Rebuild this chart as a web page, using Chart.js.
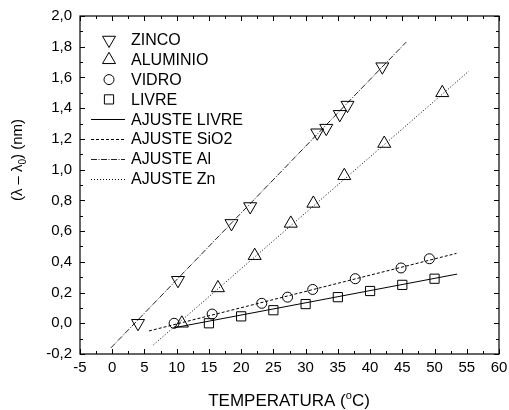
<!DOCTYPE html>
<html>
<head>
<meta charset="utf-8">
<script src="https://cdn.jsdelivr.net/npm/chart.js@4"></script>
<style>
  html, body { margin: 0; padding: 0; background: #fff; }
  canvas { display: block; }
</style>
</head>
<body>
<canvas id="chart" width="509" height="410"></canvas>
<script>
// Measured points (temperature in oC, shift in nm)
const zincoX = [4, 10.2, 18.5, 21.4, 31.8, 33.2, 35.3, 36.5, 41.9];
const zincoY = [0, 0.28, 0.65, 0.76, 1.24, 1.27, 1.36, 1.42, 1.67];
const aluminioX = [10.8, 16.4, 22.1, 27.7, 31.2, 36.0, 42.2, 51.2];
const aluminioY = [0.0, 0.23, 0.44, 0.65, 0.78, 0.96, 1.17, 1.50];
const vidroX = [9.6, 15.5, 23.2, 27.2, 31.1, 37.7, 44.8, 49.2];
const vidroY = [0.0, 0.06, 0.13, 0.17, 0.22, 0.29, 0.36, 0.42];
const livreX = [15, 20, 25, 30, 35, 40, 45, 50];
const livreY = [0, 0.045, 0.085, 0.125, 0.17, 0.21, 0.25, 0.29];

// Fit lines (end points)
const fitLivreX = [9.5, 53.5];
const fitLivreY = [-0.03, 0.32];
const fitSiO2X = [5.7, 53.4];
const fitSiO2Y = [-0.05, 0.455];
const fitAlX = [-0.2, 45.6];
const fitAlY = [-0.16, 1.83];
const fitZnX = [6.4, 55.3];
const fitZnY = [-0.14, 1.64];

const xMin = -5, xMax = 60, xStep = 5;
const yMin = -0.2, yMax = 2.0, yStep = 0.2;

const FONT = "'Liberation Sans', Arial, sans-serif";

function pts(xs, ys) {
    return xs.map((x, i) => ({ x: x, y: ys[i] }));
}

function markerSet(label, xs, ys, style, radius, rotation) {
    return {
        label: label,
        data: pts(xs, ys),
        showLine: false,
        pointStyle: style,
        pointRadius: radius,
        pointHoverRadius: radius,
        pointRotation: rotation || 0,
        pointBorderWidth: 1,
        borderColor: '#000',
        backgroundColor: 'rgba(0,0,0,0)',
        pointBackgroundColor: 'rgba(0,0,0,0)',
        order: 1
    };
}

function fitSet(label, xs, ys, dash, color) {
    return {
        label: label,
        data: pts(xs, ys),
        showLine: true,
        pointRadius: 0,
        borderColor: color,
        borderWidth: 1,
        borderDash: dash,
        fill: false,
        order: 2,
        isFit: true
    };
}

// draws box, inward ticks, axis titles and the legend
const framePlugin = {
    id: 'frame',
    afterDraw(chart) {
        const ctx = chart.ctx;
        const a = chart.chartArea;
        const xs = chart.scales.x, ys = chart.scales.y;
        ctx.save();
        ctx.strokeStyle = '#000';
        ctx.lineWidth = 1.2;
        ctx.strokeRect(a.left, a.top, a.right - a.left, a.bottom - a.top);

        ctx.lineWidth = 1;
        ctx.beginPath();
        for (let v = xMin; v <= xMax + 1e-9; v += xStep / 2) {
            const px = Math.round(xs.getPixelForValue(v)) + 0.5;
            const major = Math.abs(((v - xMin) / xStep) - Math.round((v - xMin) / xStep)) < 1e-6;
            const len = major ? 5 : 3;
            ctx.moveTo(px, a.bottom); ctx.lineTo(px, a.bottom - len);
            ctx.moveTo(px, a.top); ctx.lineTo(px, a.top + len);
        }
        for (let v = yMin; v <= yMax + 1e-9; v += yStep / 2) {
            const py = Math.round(ys.getPixelForValue(v)) + 0.5;
            const major = Math.abs(((v - yMin) / yStep) - Math.round((v - yMin) / yStep)) < 1e-6;
            const len = major ? 5 : 3;
            ctx.moveTo(a.left, py); ctx.lineTo(a.left + len, py);
            ctx.moveTo(a.right, py); ctx.lineTo(a.right - len, py);
        }
        ctx.stroke();

        // x title with superscript o
        ctx.fillStyle = '#000';
        ctx.textBaseline = 'alphabetic';
        const t1 = 'TEMPERATURA (', t3 = 'C)';
        ctx.font = '11px ' + FONT;
        const w2 = ctx.measureText('o').width;
        ctx.font = '17px ' + FONT;
        const w1 = ctx.measureText(t1).width, w3 = ctx.measureText(t3).width;
        let x0 = 289 - (w1 + w2 + w3) / 2;
        const base = 406;
        ctx.textAlign = 'left';
        ctx.fillText(t1, x0, base);
        ctx.font = '11px ' + FONT;
        ctx.fillText('o', x0 + w1, base - 7);
        ctx.font = '17px ' + FONT;
        ctx.fillText(t3, x0 + w1 + w2, base);

        // y title with subscript 0
        ctx.save();
        ctx.translate(22, 160);
        ctx.rotate(-Math.PI / 2);
        const s1 = '(\u03bb \u2013 \u03bb', s2 = '0', s3 = ') (nm)';
        ctx.font = '15px ' + FONT;
        const u1 = ctx.measureText(s1).width, u3 = ctx.measureText(s3).width;
        ctx.font = '10px ' + FONT;
        const u2 = ctx.measureText(s2).width;
        let y0 = -(u1 + u2 + u3) / 2;
        ctx.font = '15px ' + FONT;
        ctx.fillText(s1, y0, 0);
        ctx.font = '10px ' + FONT;
        ctx.fillText(s2, y0 + u1, 4);
        ctx.font = '15px ' + FONT;
        ctx.fillText(s3, y0 + u1 + u2, 0);
        ctx.restore();

        // legend
        ctx.font = '16px ' + FONT;
        ctx.textBaseline = 'middle';
        chart.data.datasets.forEach((ds, i) => {
            const cy = 40 + i * 19.8;
            ctx.strokeStyle = '#000';
            if (ds.isFit) {
                ctx.save();
                ctx.strokeStyle = ds.borderColor;
                ctx.lineWidth = 1;
                ctx.setLineDash(ds.borderDash || []);
                ctx.beginPath();
                ctx.moveTo(91, Math.round(cy) + 0.5);
                ctx.lineTo(125, Math.round(cy) + 0.5);
                ctx.stroke();
                ctx.restore();
            } else {
                ctx.save();
                ctx.lineWidth = 1;
                ctx.fillStyle = 'rgba(0,0,0,0)';
                Chart.helpers.drawPoint(ctx, {
                    pointStyle: ds.pointStyle,
                    rotation: ds.pointRotation,
                    radius: ds.pointRadius,
                    borderWidth: 1
                }, 109, cy);
                ctx.restore();
            }
            ctx.fillStyle = '#000';
            ctx.fillText(ds.label, 131, cy + 1);
        });
        ctx.restore();
    }
};

new Chart(document.getElementById('chart'), {
    type: 'scatter',
    data: {
        datasets: [
            markerSet('ZINCO', zincoX, zincoY, 'triangle', 7.5, 180),
            markerSet('ALUMINIO', aluminioX, aluminioY, 'triangle', 7.5, 0),
            markerSet('VIDRO', vidroX, vidroY, 'circle', 5),
            markerSet('LIVRE', livreX, livreY, 'rect', 6.5),
            fitSet('AJUSTE LIVRE', fitLivreX, fitLivreY, [], '#000'),
            fitSet('AJUSTE SiO2', fitSiO2X, fitSiO2Y, [3, 2], '#000'),
            fitSet('AJUSTE Al', fitAlX, fitAlY, [6, 1.5, 1, 1.5], '#222'),
            fitSet('AJUSTE Zn', fitZnX, fitZnY, [1, 2], '#000')
        ]
    },
    options: {
        responsive: false,
        animation: false,
        layout: { padding: { top: 16, right: 10, left: 0, bottom: 0 } },
        plugins: {
            legend: { display: false },
            tooltip: { enabled: false }
        },
        scales: {
            x: {
                type: 'linear',
                min: xMin,
                max: xMax,
                grid: { display: false, drawTicks: false },
                border: { display: false },
                ticks: {
                    stepSize: xStep,
                    padding: 5,
                    color: '#000',
                    font: { family: FONT, size: 15 },
                    maxRotation: 0,
                    callback: v => String(Math.round(v))
                },
                afterFit: s => { s.height = 56; s.paddingLeft = 0; s.paddingRight = 0; }
            },
            y: {
                type: 'linear',
                min: yMin,
                max: yMax,
                grid: { display: false, drawTicks: false },
                border: { display: false },
                ticks: {
                    stepSize: yStep,
                    padding: 8,
                    color: '#000',
                    font: { family: FONT, size: 15 },
                    callback: v => (Math.round(v * 10) / 10).toFixed(1).replace('.', ',')
                },
                afterFit: s => { s.width = 80; s.paddingTop = 0; s.paddingBottom = 0; }
            }
        }
    },
    plugins: [framePlugin]
});
</script>
</body>
</html>
